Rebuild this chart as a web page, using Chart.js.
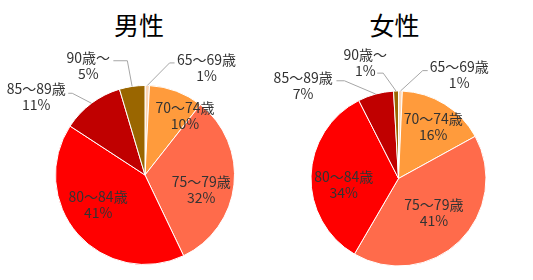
<!DOCTYPE html>
<html><head><meta charset="utf-8">
<script src="https://cdn.jsdelivr.net/npm/chart.js@4"></script>
<style>
body{margin:0;background:#fff;width:533px;height:280px;overflow:hidden;position:relative;font-family:"Noto Sans CJK JP",sans-serif}
.t{position:absolute;top:7px;font-size:25px;color:#000;width:120px;text-align:center;line-height:34px}
canvas{position:absolute;top:0}
</style></head><body>
<div class="t" style="left:79px">男性</div>
<div class="t" style="left:334.5px">女性</div>
<canvas id="m" width="266" height="280" style="left:0"></canvas>
<canvas id="f" width="267" height="280" style="left:266px"></canvas>
<script>
const categories = ['65～69歳','70～74歳','75～79歳','80～84歳','85～89歳','90歳～'];
const maleValues = [0.8, 9.8, 32.3, 41.3, 11.2, 4.6];
const femaleValues = [0.7, 16.3, 41.4, 34.1, 6.6, 0.9];
const titles = ['男性','女性'];
const colors = ['#FCD5B4','#FF9B3C','#FF6B4B','#FF0000','#C00000','#9A6600'];

// label placement: [angle from top (deg, clockwise), distance as fraction of radius]
const maleLabelPos = [[29.9,1.38],[33.9,0.80],[104.8,0.65],[237.7,0.62],[305.9,1.50],[332.7,1.38]];
const femaleLabelPos = [[30.3,1.375],[34,0.71],[133.8,0.56],[263.6,0.63],[314.2,1.52],[344,1.38]];
// leader anchors relative to label centre: [dx, dy, elbow length]
const maleLeaders = [[-32,-5,5],null,null,null,[32,-3,4],[25,-4.5,14]];
const femaleLeaders = [[-31.5,-4,5],null,null,null,[33.3,-5,8],[12,10.7,6]];

const labelPlugin = {
  id: 'sliceLabels',
  afterDatasetsDraw(chart, args, opts) {
    const ctx = chart.ctx;
    const meta = chart.getDatasetMeta(0);
    const data = chart.data.datasets[0].data;
    const total = data.reduce((a, b) => a + b, 0);
    ctx.save();
    ctx.font = '14px "Noto Sans CJK JP"';
    ctx.textAlign = 'center';
    ctx.textBaseline = 'middle';
    meta.data.forEach((arc, i) => {
      const p = arc.getProps(['x','y','startAngle','endAngle','outerRadius'], true);
      const [deg, f] = opts.pos[i];
      const t = deg * Math.PI / 180;
      const lx = p.x + f * p.outerRadius * Math.sin(t);
      const ly = p.y - f * p.outerRadius * Math.cos(t);
      const l1 = chart.data.labels[i];
      const l2 = Math.round(data[i] / total * 100) + '%';
      const ld = opts.leaders[i];
      if (ld) {
        const mid = (p.startAngle + p.endAngle) / 2;
        const sx = p.x + p.outerRadius * Math.cos(mid);
        const sy = p.y + p.outerRadius * Math.sin(mid);
        const ax = lx + ld[0], ay = ly + ld[1];
        const ex = ax + (ld[0] > 0 ? ld[2] : -ld[2]);
        ctx.strokeStyle = '#A6A6A6';
        ctx.lineWidth = 1;
        ctx.beginPath();
        ctx.moveTo(ax, ay);
        ctx.lineTo(ex, ay);
        ctx.lineTo(sx, sy);
        ctx.stroke();
      }
      ctx.fillStyle = '#333333';
      ctx.fillText(l1, lx, ly - 8);
      ctx.fillText(l2, lx, ly + 8);
    });
    ctx.restore();
  }
};

function makePie(id, values, pos, leaders, padding) {
  return new Chart(document.getElementById(id), {
    type: 'pie',
    data: {
      labels: categories,
      datasets: [{ data: values, backgroundColor: colors, borderColor: '#ffffff', borderWidth: 1 }]
    },
    options: {
      responsive: false,
      animation: false,
      layout: { padding: padding },
      plugins: {
        legend: { display: false },
        tooltip: { enabled: false },
        title: { display: false },
        sliceLabels: { pos: pos, leaders: leaders }
      }
    },
    plugins: [labelPlugin]
  });
}
makePie('m', maleValues, maleLabelPos, maleLeaders, {left: 55, right: 31, top: 85, bottom: 15});
makePie('f', femaleValues, femaleLabelPos, femaleLeaders, {left: 44.5, right: 46.5, top: 90.5, bottom: 13.5});
</script>
</body></html>
